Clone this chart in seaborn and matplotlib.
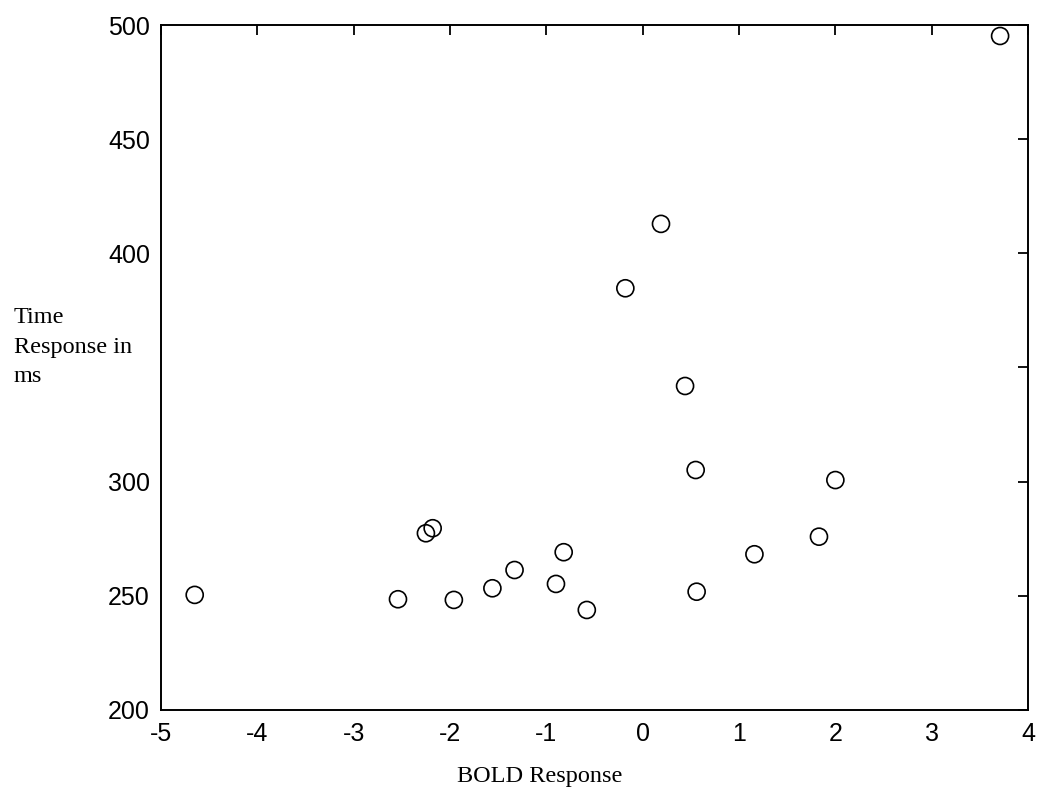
import matplotlib
matplotlib.use("Agg")
import matplotlib.pyplot as plt
import seaborn as sns
import pandas as pd

# BOLD response per subject and the matching response time (ms)
bold_response = [-4.65, -2.54, -2.25, -2.18, -1.96, -1.56, -1.33, -0.90, -0.82, -0.58,
                 -0.18, 0.19, 0.44, 0.55, 0.56, 1.16, 1.83, 2.00, 3.71]
response_time = [250.4, 248.5, 277.4, 279.6, 248.2, 253.3, 261.3, 255.2, 269.1, 243.8,
                 384.7, 412.9, 341.9, 305.1, 251.8, 268.2, 275.9, 300.7, 495.2]

x_ticks = [-5, -4, -3, -2, -1, 0, 1, 2, 3, 4]
y_ticks = [200, 250, 300, 350, 400, 450, 500]
y_tick_labels = ["200", "250", "300", "", "400", "450", "500"]
y_label_lines = ["Time", "Response in", "ms"]

df = pd.DataFrame({"BOLD": bold_response, "RT": response_time})

sns.set_style("white")
plt.rcParams["font.family"] = ["Liberation Sans", "DejaVu Sans"]
plt.rcParams["text.color"] = "black"

W, H = 1040, 797
fig = plt.figure(figsize=(W / 100, H / 100), dpi=100)
ax = fig.add_axes([0.1548, 0.1092, 0.8337, 0.8594])

sns.scatterplot(data=df, x="BOLD", y="RT", ax=ax, marker="o", s=150,
                facecolor="none", edgecolor="black", linewidth=1.2)
for coll in ax.collections:
    coll.set_facecolor("none")
    coll.set_edgecolor("black")

ax.set_xlim(-5, 4)
ax.set_ylim(200, 500)
ax.set_xticks(x_ticks)
ax.set_xticklabels([str(t) for t in x_ticks])
ax.set_yticks(y_ticks)
ax.set_yticklabels(y_tick_labels)

ax.tick_params(direction="in", length=7, width=1.3, color="black",
               labelcolor="black", labelsize=18, top=True, right=True)
ax.tick_params(axis="x", pad=9)
ax.tick_params(axis="y", pad=8)
for sp in ax.spines.values():
    sp.set_visible(True)
    sp.set_color("black")
    sp.set_linewidth(1.4)

ax.set_xlabel("")
ax.set_ylabel("")

serif = ["Liberation Serif", "DejaVu Serif"]
fig.text(540 / W, 1 - 782 / H, "BOLD Response", family=serif, fontsize=17.5,
         color="black", ha="center", va="baseline")
for line, base in zip(y_label_lines, [323, 353, 382]):
    fig.text(14 / W, 1 - base / H, line, family=serif, fontsize=17.5,
             color="black", ha="left", va="baseline")

fig.savefig("out.png", dpi=100, facecolor="white")
